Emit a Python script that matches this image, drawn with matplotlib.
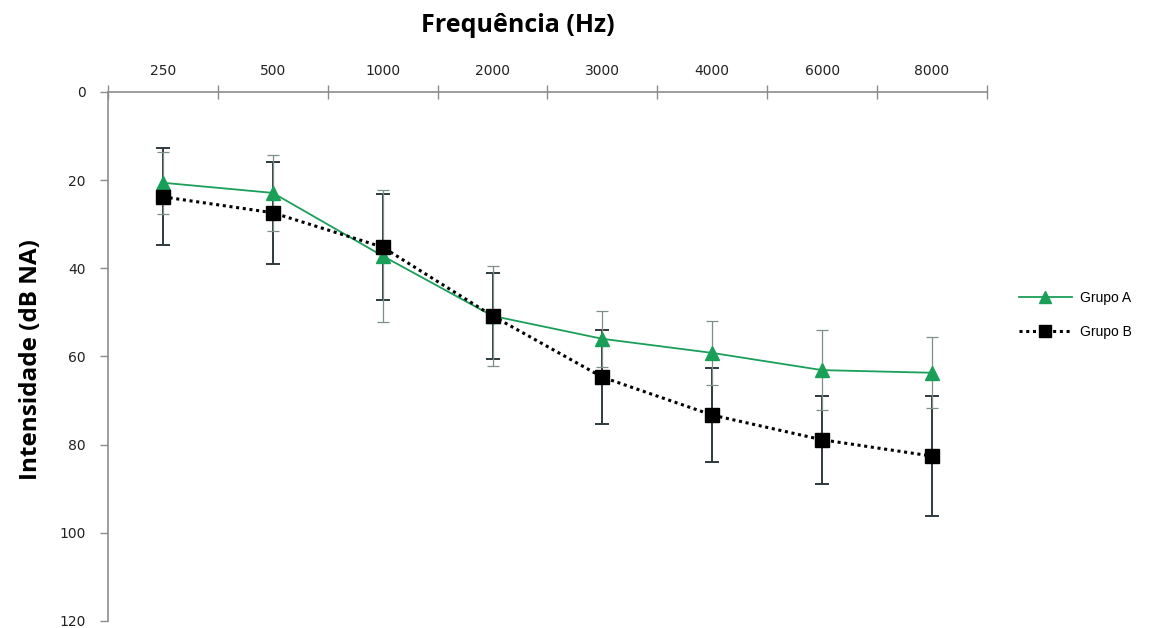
import matplotlib
matplotlib.use("Agg")
import matplotlib.pyplot as plt
import numpy as np

freqs = ["250", "500", "1000", "2000", "3000", "4000", "6000", "8000"]
grupo_a = [20.6, 22.9, 37.2, 50.8, 56.0, 59.2, 63.1, 63.7]
grupo_a_sd = [7.0, 8.6, 15.0, 11.4, 6.3, 7.2, 9.0, 8.0]
grupo_b = [23.8, 27.4, 35.2, 50.8, 64.7, 73.3, 78.9, 82.6]
grupo_b_sd = [11.0, 11.6, 12.1, 9.7, 10.7, 10.6, 10.0, 13.6]
yticks = [0, 20, 40, 60, 80, 100, 120]

green = "#1a9f58"
axis_grey = "#8c8c8c"

fig = plt.figure(figsize=(11.5, 6.28), dpi=100)
ax = fig.add_axes([0.0939, 0.0112, 0.7643, 0.8424])
x = np.arange(len(freqs))

ax.errorbar(x, grupo_b, yerr=grupo_b_sd, fmt="none", ecolor="#2f3a3f",
            elinewidth=1.4, capsize=5, capthick=1.4, zorder=2)
ax.errorbar(x, grupo_a, yerr=grupo_a_sd, fmt="none", ecolor="#7d9088",
            elinewidth=0.9, capsize=4, capthick=0.9, zorder=2)
ax.plot(x, grupo_a, color=green, lw=1.3, marker="^", markersize=10,
        markerfacecolor=green, markeredgecolor=green, label="Grupo A", zorder=3)
ax.plot(x, grupo_b, color="black", lw=2.2, ls=(0, (1, 1.2)), marker="s", markersize=10,
        markerfacecolor="black", markeredgecolor="black", label="Grupo B", zorder=4)

ax.set_xlim(-0.5, len(freqs) - 0.5)
ax.set_ylim(120, 0)
ax.set_yticks(yticks)
ax.set_yticklabels([str(v) for v in yticks], fontsize=10, color="#222222")

ax.xaxis.tick_top()
ax.set_xticks(np.arange(-0.5, len(freqs), 1.0))
ax.set_xticklabels([])
ax.set_xticks(x, minor=True)
ax.set_xticklabels(freqs, minor=True, fontsize=10, color="#222222")
ax.tick_params(axis="x", which="major", direction="inout", length=10, color=axis_grey, width=1)
ax.tick_params(axis="x", which="minor", length=0, pad=10)
ax.tick_params(axis="y", direction="out", length=6, color=axis_grey, width=1, pad=10)

for s in ["right", "bottom"]:
    ax.spines[s].set_visible(False)
for s in ["top", "left"]:
    ax.spines[s].set_color(axis_grey)
    ax.spines[s].set_linewidth(1.2)

fig.text(0.450, 0.960, "Frequência (Hz)", ha="center", va="center",
         fontsize=18, fontweight="bold", family="Open Sans")
fig.text(0.027, 0.427, "Intensidade (dB NA)", ha="center", va="center", rotation=90,
         fontsize=17.5, fontweight="bold", family="Open Sans")

leg = ax.legend(loc="center left", bbox_to_anchor=(1.022, 0.578), frameon=False,
                handlelength=3.8, labelspacing=1.45, handletextpad=0.6,
                prop={"family": "Liberation Sans", "size": 10})
for h in leg.legend_handles:
    h.set_markersize(8)

fig.savefig("out.png", dpi=100)
